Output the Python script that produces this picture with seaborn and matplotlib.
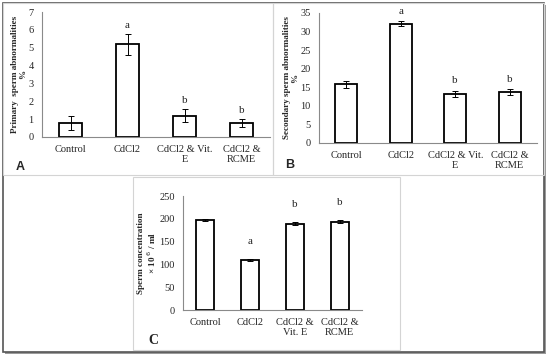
import matplotlib
matplotlib.use("Agg")
import matplotlib.pyplot as plt
import seaborn as sns
import pandas as pd
from matplotlib.patches import Rectangle

# data
groups = ["Control", "CdCl2", "CdCl2 & Vit. E", "CdCl2 & RCME"]
labels_ab = ["Control", "CdCl2", "CdCl2 & Vit.\nE", "CdCl2 &\nRCME"]
labels_c = ["Control", "CdCl2", "CdCl2 &\nVit. E", "CdCl2 &\nRCME"]

primary = [0.8, 5.2, 1.2, 0.8]
primary_err = [0.38, 0.58, 0.38, 0.22]
primary_sig = ["", "a", "b", "b"]

secondary = [15.8, 32.1, 13.3, 13.7]
secondary_err = [0.9, 0.7, 0.8, 0.9]
secondary_sig = ["", "a", "b", "b"]

concentration = [198, 109, 189, 194]
concentration_err = [2, 2, 3, 3]
concentration_sig = ["", "a", "b", "b"]

sns.set_style("white")
plt.rcParams['font.family'] = ['Liberation Serif', 'DejaVu Serif']

W, H = 550, 359
fig = plt.figure(figsize=(W / 100, H / 100), dpi=100)


def px_axes(left, top, right, bottom):
    return fig.add_axes([left / W, 1 - bottom / H, (right - left) / W, (bottom - top) / H])


def panel(ax, vals, errs, sig, ticklabels, ymax, step, ylabel, off):
    df = pd.DataFrame({"grupo": groups, "valor": vals})
    sns.barplot(data=df, x="grupo", y="valor", color="white", edgecolor="black",
                linewidth=1.3, width=0.4, ax=ax)
    ax.errorbar(range(len(vals)), vals, yerr=errs, fmt="none", ecolor="black",
                elinewidth=0.7, capsize=2, capthick=0.7)
    for i, s in enumerate(sig):
        if s:
            ax.annotate(s, (i, vals[i] + errs[i]), xytext=(0, off), textcoords="offset points",
                        ha="center", va="center", fontsize=8)
    ax.set_ylim(0, ymax)
    ax.set_xlim(-0.5, 3.5)
    ax.set_yticks(range(0, ymax + 1, step))
    ax.set_xticks(range(4))
    ax.set_xticklabels(ticklabels, fontsize=7.5, linespacing=1.1)
    ax.tick_params(axis="y", labelsize=7.5, length=0, pad=6)
    ax.tick_params(axis="x", length=0, pad=6)
    ax.set_xlabel("")
    ax.set_ylabel(ylabel, fontsize=6.6, fontweight="bold", linespacing=1.0, labelpad=1)
    sns.despine(ax=ax)
    for sp in ["left", "bottom"]:
        ax.spines[sp].set_color("#8a8a8a")
        ax.spines[sp].set_linewidth(0.8)
    ax.patch.set_alpha(0)
    ax.set_zorder(3)


# panel frames and outer border
fig.patches.append(Rectangle((5 / W, 1 - 354 / H), 541 / W, 349 / H, transform=fig.transFigure,
                             facecolor="#9a9a9a", edgecolor="none", zorder=-3))
fig.patches.append(Rectangle((3 / W, 1 - 352 / H), 541 / W, 349 / H, transform=fig.transFigure,
                             facecolor="white", edgecolor="#555555", linewidth=1.2, zorder=-2))
for (l, t, r, b) in [(3, 3, 273, 175), (273, 3, 544, 175), (133, 177, 400, 350)]:
    fig.patches.append(Rectangle((l / W, 1 - b / H), (r - l) / W, (b - t) / H,
                                 transform=fig.transFigure, facecolor="none",
                                 edgecolor="#d4d4d4", linewidth=0.8, zorder=-1))

ax_a = px_axes(42, 12, 270, 137)
panel(ax_a, primary, primary_err, primary_sig, labels_ab, 7, 1,
      "Primary  sperm abnormalities\n%", 6)
ax_b = px_axes(319, 13, 537, 143)
panel(ax_b, secondary, secondary_err, secondary_sig, labels_ab, 35, 5,
      "Secondary sperm abnormalities\n%", 7)
ax_c = px_axes(183, 196, 362, 310)
panel(ax_c, concentration, concentration_err, concentration_sig, labels_c, 250, 50,
      "Sperm concentration\n× 10 $^{6}$ / ml", 13)

fig.text(20 / W, 1 - 167 / H, "A", fontsize=9, fontweight="bold", family="Liberation Sans",
         ha="center", va="center")
fig.text(290 / W, 1 - 165 / H, "B", fontsize=9, fontweight="bold", family="Liberation Sans",
         ha="center", va="center")
fig.text(153 / W, 1 - 340 / H, "C", fontsize=10, fontweight="bold", ha="center", va="center")

fig.savefig("out.png", dpi=100)
